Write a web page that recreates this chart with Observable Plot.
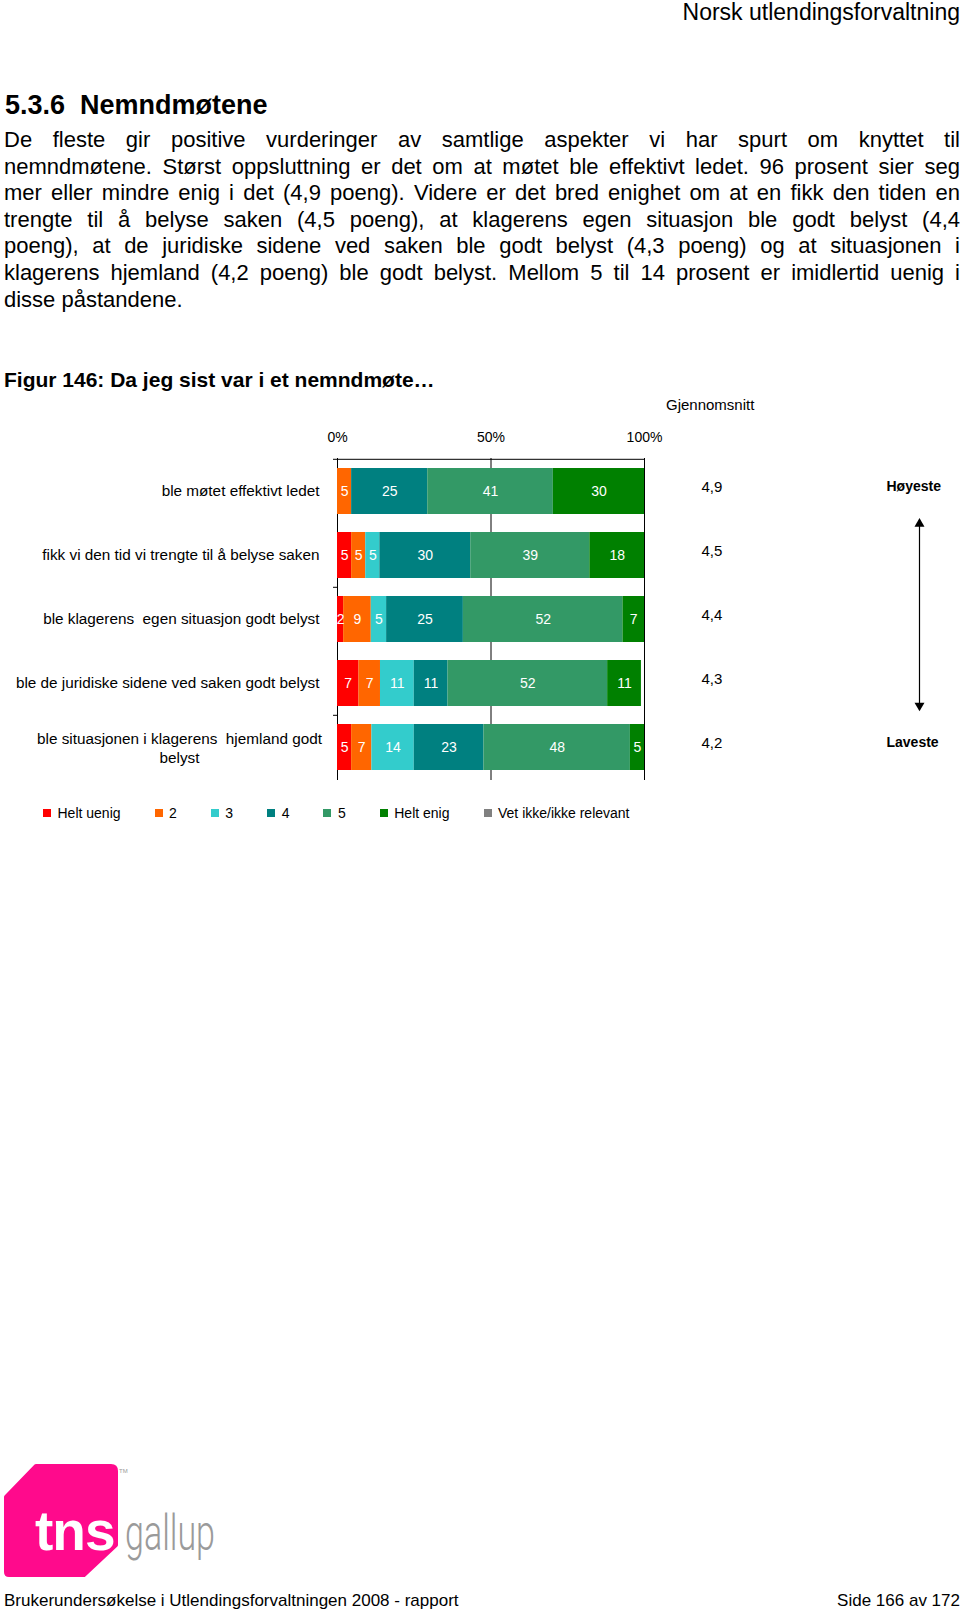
<!DOCTYPE html>
<html>
<head>
<meta charset="utf-8">
<script src="https://cdn.jsdelivr.net/npm/d3@7"></script>
<script src="https://cdn.jsdelivr.net/npm/@observablehq/plot@0.6"></script>
<style>
html,body{margin:0;padding:0;background:#fff;overflow:hidden;}
body{width:960px;height:1611px;position:relative;font-family:"Liberation Sans",Arial,Helvetica,sans-serif;color:#000;}
.abs{position:absolute;white-space:nowrap;}
#para{position:absolute;left:4px;top:127px;width:956px;font-size:22px;line-height:26.6px;}
#para div{text-align:justify;text-align-last:justify;}
#para div.last{text-align-last:left;}
.lg-swatches{font-family:"Liberation Sans",Arial,sans-serif !important;font-size:14px !important;margin:0 !important;}
.lg-swatches-wrap{min-height:20px !important;}
.lg-swatch{margin-right:34px !important;}
.lg-swatch > svg{margin-right:6.5px !important;}
</style>
</head>
<body>
<div class="abs" style="right:0;top:0.5px;font-size:23px;line-height:23px;">Norsk utlendingsforvaltning</div>
<div class="abs" style="left:5px;top:92px;font-size:27px;line-height:27px;font-weight:bold;">5.3.6<span style="margin-left:15px">Nemndmøtene</span></div>
<div id="para">
<div>De fleste gir positive vurderinger av samtlige aspekter vi har spurt om knyttet til</div>
<div>nemndmøtene. Størst oppsluttning er det om at møtet ble effektivt ledet. 96 prosent sier seg</div>
<div>mer eller mindre enig i det (4,9 poeng). Videre er det bred enighet om at en fikk den tiden en</div>
<div>trengte til å belyse saken (4,5 poeng), at klagerens egen situasjon ble godt belyst (4,4</div>
<div>poeng), at de juridiske sidene ved saken ble godt belyst (4,3 poeng) og at situasjonen i</div>
<div>klagerens hjemland (4,2 poeng) ble godt belyst. Mellom 5 til 14 prosent er imidlertid uenig i</div>
<div class="last">disse påstandene.</div>
</div>
<div class="abs" style="left:4px;top:369px;font-size:21px;line-height:21px;font-weight:bold;">Figur 146: Da jeg sist var i et nemndmøte…</div>
<div id="chart" style="position:absolute;left:0;top:390px;"></div>
<div class="abs" style="left:666px;top:397px;font-size:15px;line-height:15px;">Gjennomsnitt</div>
<div id="legend" style="position:absolute;left:43px;top:803px;"></div>

<svg class="abs" style="left:0;top:1450px;" width="280" height="145">
  <path d="M36,16 L111,16 Q116,16 116,21 L116,95 L84,125 L9,125 Q6,125 6,122 L6,47 Z" fill="#ff0a8c" stroke="#ff0a8c" stroke-width="4" stroke-linejoin="round"/>
  <text x="35" y="100" font-family="Liberation Sans, Arial, sans-serif" font-weight="bold" font-size="55" fill="#fff" letter-spacing="-1">tns</text>
  <text x="125" y="100" font-family="Roboto, Liberation Sans, sans-serif" font-weight="300" font-size="50" fill="#9a9a9a" textLength="90" lengthAdjust="spacingAndGlyphs">gallup</text>
  <text x="119" y="23" font-family="Liberation Sans, Arial, sans-serif" font-size="6" fill="#999">TM</text>
</svg>

<div class="abs" style="left:4px;top:1592px;font-size:17px;line-height:17px;">Brukerundersøkelse i Utlendingsforvaltningen 2008 - rapport</div>
<div class="abs" style="right:0;top:1592px;font-size:17px;line-height:17px;">Side 166 av 172</div>

<script>
// ---- Data ----
const categories = [
  "ble møtet effektivt ledet",
  "fikk vi den tid vi trengte til å belyse saken",
  "ble klagerens egen situasjon godt belyst",
  "ble de juridiske sidene ved saken godt belyst",
  "ble situasjonen i klagerens hjemland godt belyst"
];
const categoryLabels = [
  "ble møtet effektivt ledet",
  "fikk vi den tid vi trengte til å belyse saken",
  "ble klagerens  egen situasjon godt belyst",
  "ble de juridiske sidene ved saken godt belyst",
  "ble situasjonen i klagerens  hjemland godt\nbelyst"
];
const responses = ["Helt uenig", "2", "3", "4", "5", "Helt enig", "Vet ikke/ikke relevant"];
const colors = ["#FF0000", "#FF6600", "#33CCCC", "#008080", "#339966", "#008000", "#808080"];

const heltUenig = [0, 4.6, 2, 7, 4.6];
const verdi2    = [4.6, 4.6, 9, 7, 6.6];
const verdi3    = [0, 4.6, 5, 11, 13.8];
const verdi4    = [24.8, 29.6, 25, 11, 22.7];
const verdi5    = [40.9, 38.8, 52, 52, 47.7];
const heltEnig  = [29.7, 17.8, 7, 11, 4.6];
const vetIkke   = [0, 0, 0, 0, 0];

const averages = ["4,9", "4,5", "4,4", "4,3", "4,2"];
const xTicks = [0, 50, 100];
const extremes = ["Høyeste", "Laveste"];

// ---- Table ----
const series = [heltUenig, verdi2, verdi3, verdi4, verdi5, heltEnig, vetIkke];
const rows = categories.flatMap((c, i) => responses.map((r, j) => ({cat: c, resp: r, value: series[j][i]})));

const W = 960, H = 400, mt = 68, mb = 10, ml = 337, mr = 316;
const step = (H - mt - mb) / categories.length;
const font = '"Liberation Sans", Arial, Helvetica, sans-serif';
const fmt = d3.format(".0f");

const chart = Plot.plot({
  width: W, height: H,
  marginTop: mt, marginBottom: mb, marginLeft: ml, marginRight: mr,
  style: {fontFamily: font, fontSize: "14px", background: "transparent", color: "#000", overflow: "visible"},
  x: {domain: [0, 100], axis: null, label: null},
  y: {domain: categories, paddingInner: 0.28, paddingOuter: 0.14, axis: null, label: null},
  color: {domain: responses, range: colors},
  marks: [
    Plot.ruleX(xTicks, {stroke: "#000", strokeWidth: 1}),
    Plot.ruleY([categories[0]], {y: d => d, x1: 0, x2: 100, dy: -step / 2, insetLeft: -4, stroke: "#000"}),
    Plot.ruleY([categories[2], categories[4]], {y: d => d, x1: 0, x2: 0, dy: -step / 2, insetLeft: -4, stroke: "#000"}),
    Plot.barX(rows, {x: "value", y: "cat", fill: "resp"}),
    Plot.text(rows, Plot.stackX({
      x: "value", y: "cat", z: "resp",
      filter: d => d.value > 0,
      text: d => fmt(d.value),
      fill: "white", fontSize: 14
    })),
    Plot.axisX({anchor: "top", ticks: xTicks, tickFormat: d => d + "%", tickSize: 0, tickPadding: 17, fontSize: 14, label: null}),
    Plot.text(categories.slice(0, 4), {
      y: d => d, text: (d, i) => categoryLabels[i],
      frameAnchor: "left", dx: -18, textAnchor: "end", fontSize: 15.3
    }),
    Plot.text([categories[4]], {
      y: d => d, text: () => categoryLabels[4],
      frameAnchor: "left", dx: -158, textAnchor: "middle", fontSize: 15.3, lineHeight: 1.21
    }),
    Plot.text(categories, {
      y: d => d, text: (d, i) => averages[i],
      frameAnchor: "right", dx: 57, dy: -4.5, textAnchor: "start", fontSize: 15
    }),
    Plot.text([categories[0], categories[4]], {
      y: d => d, text: (d, i) => extremes[i],
      frameAnchor: "right", dx: 242, dy: -4.5, textAnchor: "start", fontSize: 14, fontWeight: "bold"
    }),
    Plot.arrow([0], {
      x1: () => 100, x2: () => 100, y1: () => categories[0], y2: () => categories[4],
      dx: 275, insetStart: 29, insetEnd: 39, headLength: 0, stroke: "#000", strokeWidth: 1.2
    }),
    Plot.dot([categories[0]], {y: d => d, frameAnchor: "right", dx: 275, dy: 32.3, symbol: "triangle", r: 3.7, fill: "#000", stroke: null}),
    Plot.dot([categories[4]], {y: d => d, frameAnchor: "right", dx: 275, dy: -41.9, symbol: "triangle", rotate: 180, r: 3.7, fill: "#000", stroke: null})
  ]
});
document.getElementById("chart").appendChild(chart);

const leg = Plot.legend({
  color: {domain: responses, range: colors},
  legend: "swatches", swatchSize: 8, className: "lg"
});
document.getElementById("legend").appendChild(leg);
</script>
</body>
</html>
